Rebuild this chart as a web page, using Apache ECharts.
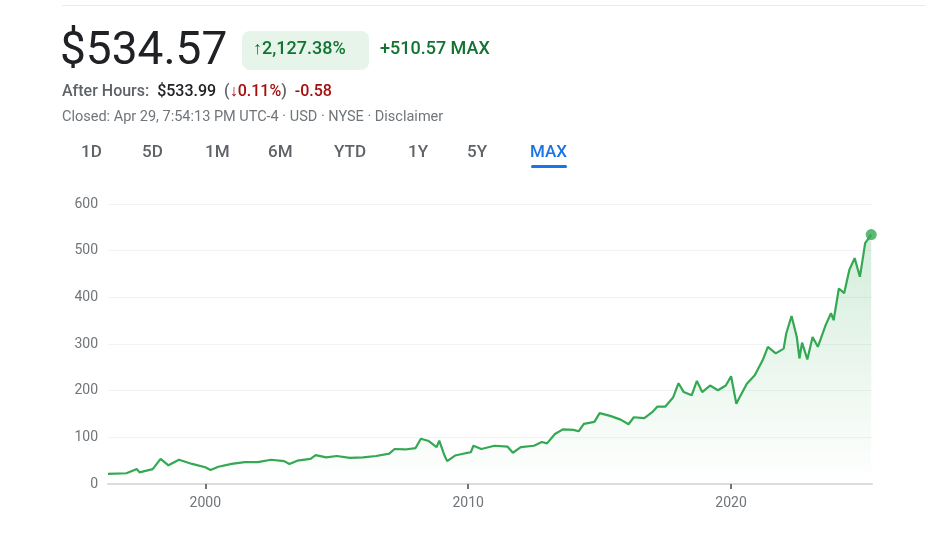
<!DOCTYPE html>
<html><head><meta charset="utf-8">
<script src="https://cdn.jsdelivr.net/npm/echarts@6/dist/echarts.min.js"></script>
<style>html,body{margin:0;padding:0;background:#fff}#c{width:930px;height:539px}</style>
</head><body><div id="c"></div>
<script>
const years = [1996.3,1997.0,1997.4,1997.5,1998.0,1998.3,1998.6,1999.0,1999.5,2000.0,2000.2,2000.5,2001,2001.5,2002,2002.5,2003,2003.2,2003.5,2004,2004.2,2004.6,2005,2005.5,2006,2006.5,2007,2007.2,2007.6,2008,2008.2,2008.5,2008.8,2008.9,2009.1,2009.2,2009.5,2009.9,2010.1,2010.2,2010.5,2011,2011.5,2011.7,2012,2012.5,2012.8,2013.0,2013.3,2013.6,2014,2014.2,2014.4,2014.8,2015.0,2015.4,2015.8,2016.1,2016.3,2016.7,2017.0,2017.2,2017.5,2017.8,2018.0,2018.2,2018.5,2018.7,2018.9,2019.2,2019.5,2019.8,2020.0,2020.2,2020.3,2020.6,2020.9,2021.2,2021.4,2021.7,2022.0,2022.1,2022.3,2022.5,2022.6,2022.7,2022.9,2023.1,2023.3,2023.6,2023.8,2023.9,2024.1,2024.3,2024.5,2024.7,2024.9,2025.1,2025.2,2025.33];
const prices = [21.5,23,32,25,32,54,40,52,43,36,30,37,43,47,47,52,49,43,50,54,62,57,60,56,57,60,65,75,74,77,97,92,79,93,61,49,61,66,68,82,75,82,80,67,79,82,90,87,107,117,116,113,129,133,152,146,138,128,143,141,154,166,166,186,216,197,190,221,197,211,201,211,231,172,183,215,233,265,294,280,290,323,360,315,269,303,267,315,294,341,366,351,419,409,459,484,444,516,524,534.57];
const yTicks = [0,100,200,300,400,500,600];
const xTicks = [2000,2010,2020];

const data = years.map((y,i)=>[y,prices[i]]);
const F = 'Roboto, "Noto Sans", sans-serif';
const chart = echarts.init(document.getElementById('c'));
const t = (x,y,text,size,color,weight)=>({type:'text',left:x,top:y,style:{text,fontSize:size,fill:color,fontFamily:F,fontWeight:weight||400}});
chart.setOption({
  animation:false,
  grid:{left:108,right:58,top:204,bottom:55},
  xAxis:{type:'value',min:1996.3,max:2025.36,
    axisLine:{lineStyle:{color:'#dadce0',width:2}},
    axisTick:{show:true,customValues:xTicks,length:5,lineStyle:{color:'#70757a',width:2}},
    axisLabel:{customValues:xTicks,formatter:v=>String(Math.round(v)),color:'#70757a',fontSize:14,fontFamily:F,margin:12},
    splitLine:{show:false}},
  yAxis:{type:'value',min:0,max:600,interval:100,
    axisLabel:{color:'#70757a',fontSize:14,fontFamily:F,margin:10},
    splitLine:{lineStyle:{color:'#f1f3f4'}},axisLine:{show:false},axisTick:{show:false}},
  series:[
    {type:'line',data,showSymbol:false,lineStyle:{color:'#34a853',width:2.2},
     areaStyle:{color:new echarts.graphic.LinearGradient(0,0,0,1,[{offset:0,color:'rgba(52,168,83,0.3)'},{offset:1,color:'rgba(52,168,83,0)'}])}},
    {type:'scatter',data:[data[data.length-1]],symbolSize:11,itemStyle:{color:'#34a853'}}
  ],
  graphic:[
    {type:'rect',shape:{x:62,y:5,width:863,height:1},style:{fill:'#e8eaed'}},
    t(60,29,'$534.57',46,'#202124'),
    {type:'rect',shape:{x:242,y:31,width:127,height:39,r:8},style:{fill:'#e6f4ea'}},
    t(253,40,'↑2,127.38%',18,'#137333',500),
    t(380,40,'+510.57 MAX',18,'#137333',500),
    {type:'text',left:62,top:84,style:{text:'{g|After Hours:}  {b|$533.99}  {g|(}{r|↓0.11%}{g|)}  {r|-0.58}',fontFamily:F,fontSize:16,
      rich:{g:{fill:'#5f6368',fontSize:16,fontWeight:500,fontFamily:F},b:{fill:'#202124',fontSize:16,fontWeight:500,fontFamily:F},r:{fill:'#a50e0e',fontSize:16,fontWeight:500,fontFamily:F}}}},
    t(62,110,'Closed: Apr 29, 7:54:13 PM UTC-4 · USD · NYSE · Disclaimer',14.5,'#70757a'),
    t(81,144,'1D',17,'#5f6368',500),
    t(142,144,'5D',17,'#5f6368',500),
    t(205,144,'1M',17,'#5f6368',500),
    t(268,144,'6M',17,'#5f6368',500),
    t(334,144,'YTD',17,'#5f6368',500),
    t(408,144,'1Y',17,'#5f6368',500),
    t(467,144,'5Y',17,'#5f6368',500),
    t(530,144,'MAX',17,'#1a73e8',500),
    {type:'rect',shape:{x:531,y:165,width:36,height:3,r:1.5},style:{fill:'#1a73e8'}}
  ]
});
</script></body></html>
